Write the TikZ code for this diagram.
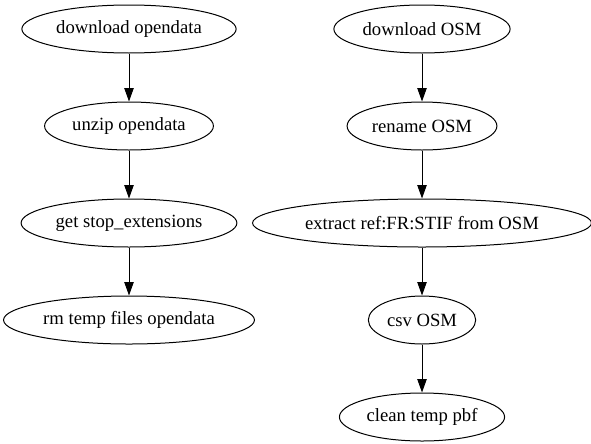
\documentclass[tikz,border=0pt]{standalone}
\usepackage{fontspec}
\setmainfont{Liberation Serif}
\usepackage{tikz}
\usetikzlibrary{shapes.geometric,arrows.meta,positioning}

\begin{document}
\begin{tikzpicture}[
    node distance=36pt,
    task/.style={ellipse, draw, line width=0.75pt, inner xsep=2.2pt, inner ysep=4pt, minimum height=36pt, font=\fontsize{14}{17}\selectfont},
    flow/.style={-{Triangle[length=10pt,width=7pt]}, line width=0.75pt}
]
\useasboundingbox (0,0) rectangle (443.25pt,-332.25pt);

% Opendata chain
\node[task] (dlopen) at (96.75pt,-21.75pt) {download opendata};
\node[task, below=of dlopen] (unzip) {unzip opendata};
\node[task, below=of unzip] (stopext) {get stop\_extensions};
\node[task, below=of stopext] (rmopen) {rm temp files opendata};

% OSM chain
\node[task] (dlosm) at (316.5pt,-21.75pt) {download OSM};
\node[task, below=of dlosm] (renosm) {rename OSM};
\node[task, below=of renosm] (extract) {extract ref:FR:STIF from OSM};
\node[task, below=of extract] (csvosm) {csv OSM};
\node[task, below=of csvosm] (cleanpbf) {clean temp pbf};

% Edges
\draw[flow] (dlopen) -- (unzip);
\draw[flow] (unzip) -- (stopext);
\draw[flow] (stopext) -- (rmopen);
\draw[flow] (dlosm) -- (renosm);
\draw[flow] (renosm) -- (extract);
\draw[flow] (extract) -- (csvosm);
\draw[flow] (csvosm) -- (cleanpbf);

\end{tikzpicture}
\end{document}
